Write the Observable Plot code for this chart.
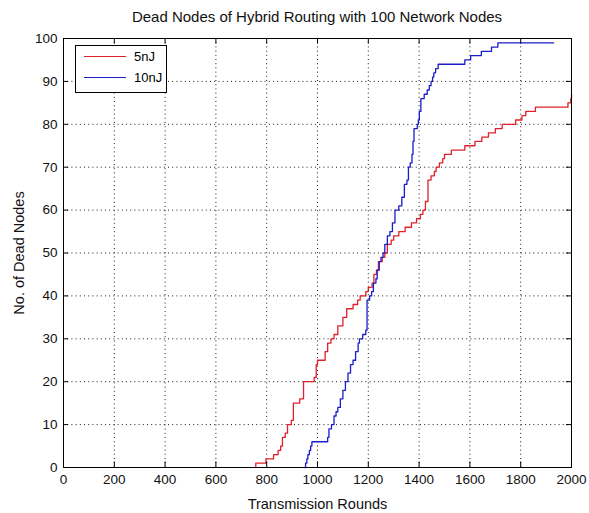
<!DOCTYPE html>
<html>
<head>
<meta charset="utf-8">
<script src="https://cdn.jsdelivr.net/npm/d3@7"></script>
<script src="https://cdn.jsdelivr.net/npm/@observablehq/plot@0.6"></script>
<style>
  html, body { margin: 0; padding: 0; background: #fff; }
  #wrap { position: relative; width: 589px; height: 513px; font-family: "Liberation Sans", Arial, sans-serif; }
  #title { position: absolute; left: 63px; width: 508px; top: 8px; text-align: center; font-size: 15px; color: #111; }
  #chart { position: absolute; left: 0; top: 30px; }
  #legend { position: absolute; left: 75px; top: 45px; width: 90px; height: 46px; border: 1px solid #000; background: #fff; font-size: 13px; }
  .row { position: absolute; left: 8px; display: flex; align-items: center; }
  .sw { width: 42px; height: 0; border-top: 1.3px solid; margin-right: 8px; }
</style>
</head>
<body>
<div id="wrap">
  <div id="title"></div>
  <div id="chart"></div>
  <div id="legend"></div>
</div>
<script>
const chartTitle = "Dead Nodes of Hybrid Routing with 100 Network Nodes";
const xLabel = "Transmission Rounds";
const yLabel = "No. of Dead Nodes";
const seriesNames = ["5nJ", "10nJ"];
const seriesColors = ["#e0202a", "#1c1cc8"];
const xTicks = [0, 200, 400, 600, 800, 1000, 1200, 1400, 1600, 1800, 2000];
const yTicks = [0, 10, 20, 30, 40, 50, 60, 70, 80, 90, 100];

// 5nJ: rounds at which the dead-node count changes, and the new count
const rounds5nJ = [757, 757, 797, 827, 845, 855, 862, 873, 882, 897, 905, 930, 945, 987, 995, 1000, 1030, 1040, 1053, 1065, 1080, 1100, 1115, 1140, 1158, 1168, 1190, 1200, 1215, 1222, 1232, 1240, 1255, 1265, 1275, 1290, 1300, 1320, 1345, 1370, 1390, 1405, 1415, 1425, 1435, 1447, 1460, 1467, 1480, 1493, 1500, 1527, 1547, 1580, 1620, 1647, 1673, 1700, 1727, 1780, 1805, 1820, 1858, 1986, 1997, 2000];
const dead5nJ   = [0, 1, 2, 3, 4, 5, 7, 8, 10, 11, 15, 16, 20, 21, 24, 25, 27, 29, 30, 31, 33, 35, 37, 38, 39, 40, 41, 42, 43, 45, 46, 48, 49, 50, 52, 53, 54, 55, 56, 57, 58, 59, 60, 62, 67, 68, 69, 70, 71, 72, 73, 74, 74, 75, 76, 77, 78, 79, 80, 81, 82, 83, 84, 85, 86, 87];

// 10nJ
const rounds10nJ = [950, 953, 958, 962, 968, 973, 978, 1040, 1045, 1055, 1065, 1073, 1080, 1090, 1100, 1110, 1120, 1130, 1140, 1150, 1160, 1165, 1178, 1190, 1195, 1205, 1213, 1220, 1230, 1235, 1243, 1250, 1258, 1265, 1275, 1285, 1295, 1305, 1320, 1332, 1342, 1352, 1358, 1365, 1372, 1376, 1380, 1393, 1397, 1401, 1407, 1420, 1432, 1440, 1447, 1453, 1458, 1465, 1475, 1580, 1603, 1645, 1685, 1710, 1930];
const dead10nJ   = [0, 1, 2, 3, 4, 5, 6, 7, 9, 10, 12, 13, 14, 16, 18, 20, 22, 24, 25, 27, 29, 30, 31, 32, 39, 40, 41, 43, 44, 46, 48, 49, 50, 52, 54, 55, 57, 60, 61, 63, 66, 67, 70, 71, 73, 76, 79, 80, 81, 83, 86, 87, 88, 89, 90, 91, 92, 93, 94, 95, 96, 97, 98, 99, 99];

const data = [
  ...rounds5nJ.map((r, i) => ({round: r, dead: dead5nJ[i], series: seriesNames[0]})),
  ...rounds10nJ.map((r, i) => ({round: r, dead: dead10nJ[i], series: seriesNames[1]}))
];

document.getElementById("title").textContent = chartTitle;

const font = "'Liberation Sans', Arial, sans-serif";
const chart = Plot.plot({
  width: 589,
  height: 483,
  marginTop: 8,
  marginBottom: 46,
  marginLeft: 63,
  marginRight: 18,
  style: {fontFamily: font, fontSize: "13px", color: "#111", background: "#fff"},
  x: {type: "linear", domain: [0, 2000]},
  y: {type: "linear", domain: [0, 100]},
  color: {domain: seriesNames, range: seriesColors},
  marks: [
    Plot.gridX(xTicks, {stroke: "#000", strokeOpacity: 0.9, strokeDasharray: "1,3.2"}),
    Plot.gridY(yTicks, {stroke: "#000", strokeOpacity: 0.9, strokeDasharray: "1,3.2"}),
    Plot.line(data, {x: "round", y: "dead", z: "series", stroke: "series", curve: "step-after", strokeWidth: 1.3}),
    Plot.ruleX(xTicks, {x: d => d, y1: () => 0, y2: () => 1.3, stroke: "#000"}),
    Plot.ruleX(xTicks, {x: d => d, y1: () => 98.7, y2: () => 100, stroke: "#000"}),
    Plot.ruleY(yTicks, {y: d => d, x1: () => 0, x2: () => 20, stroke: "#000"}),
    Plot.ruleY(yTicks, {y: d => d, x1: () => 1980, x2: () => 2000, stroke: "#000"}),
    Plot.axisX(xTicks, {tickSize: 0, tickPadding: 7, tickFormat: d => String(d), label: null, fontSize: 13.5}),
    Plot.axisX({tickSize: 0, ticks: [], label: xLabel, labelAnchor: "center", labelArrow: "none", labelOffset: 41, fontSize: 14.5}),
    Plot.axisY(yTicks, {tickSize: 0, tickPadding: 6, tickFormat: d => String(d), label: null, fontSize: 13.5}),
    Plot.axisY({tickSize: 0, ticks: [], label: yLabel, labelAnchor: "center", labelArrow: "none", labelOffset: 50, fontSize: 14.5}),
    Plot.frame({stroke: "#000", strokeWidth: 1})
  ]
});
document.getElementById("chart").appendChild(chart);

const legend = document.getElementById("legend");
seriesNames.forEach((name, i) => {
  const row = document.createElement("div");
  row.className = "row";
  row.style.top = (i === 0 ? 3 : 24) + "px";
  const sw = document.createElement("span");
  sw.className = "sw";
  sw.style.borderTopColor = seriesColors[i];
  const lab = document.createElement("span");
  lab.textContent = name;
  row.appendChild(sw);
  row.appendChild(lab);
  legend.appendChild(row);
});
</script>
</body>
</html>
